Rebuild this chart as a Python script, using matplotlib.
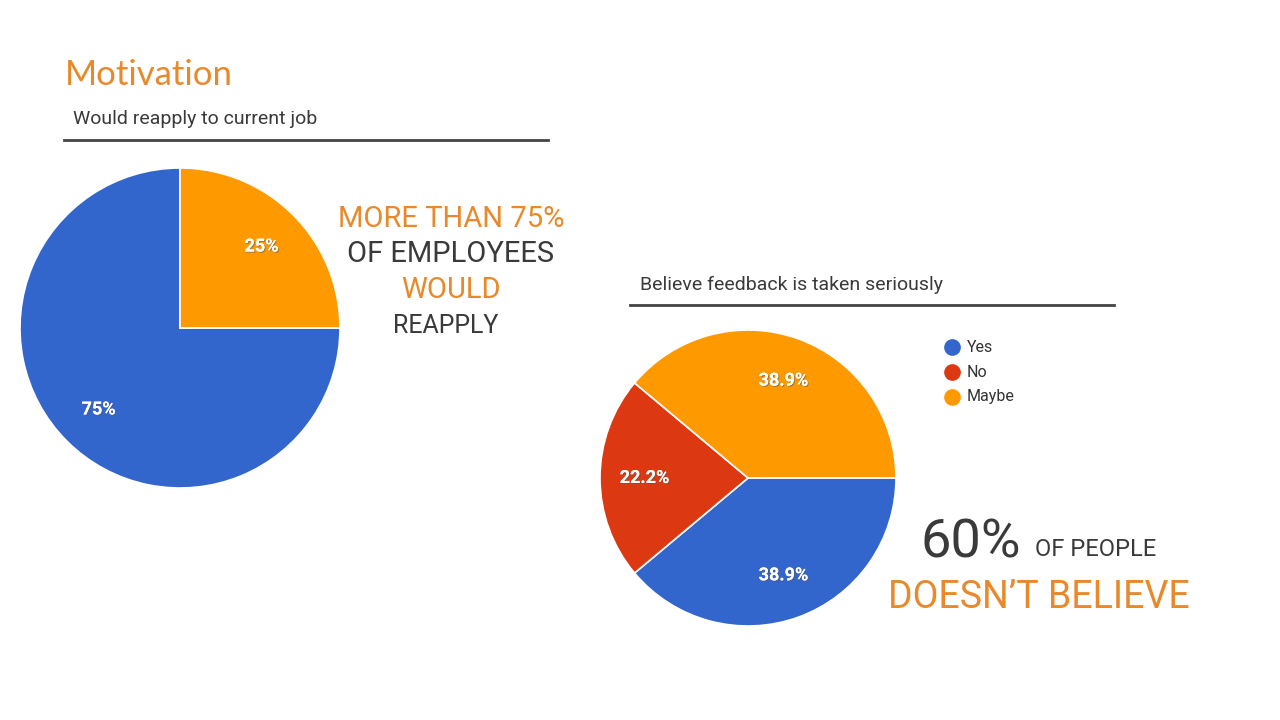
import matplotlib
matplotlib.use("Agg")
import matplotlib.pyplot as plt
import matplotlib.patheffects as pe
from matplotlib.lines import Line2D

# ---- data ----
reapply_labels = ["Yes", "No"]
reapply_values = [75, 25]
reapply_colors = ["#3366CC", "#FF9900"]

feedback_labels = ["Yes", "No", "Maybe"]
feedback_values = [38.9, 22.2, 38.9]
feedback_colors = ["#3366CC", "#DC3912", "#FF9900"]

ORANGE = "#E8892B"
DARK = "#3A3A3A"

W, H = 1280, 720
fig = plt.figure(figsize=(12.8, 7.2), dpi=100)
fig.patch.set_facecolor("white")


def fx(x):
    return x / W


def fy(y):
    return 1 - y / H


def pie_axes(cx, cy, r):
    ax = fig.add_axes([fx(cx - r), fy(cy + r), 2 * r / W, 2 * r / H])
    return ax


def finish(ax):
    ax.set_xlim(-1, 1)
    ax.set_ylim(-1, 1)
    ax.set_aspect("equal")
    ax.axis("off")


shadow = [pe.withSimplePatchShadow(offset=(0.8, -0.8), shadow_rgbFace="#555555", alpha=0.5), pe.Normal()]
pct_props = dict(color="white", fontsize=13, fontweight="bold", family="Roboto")

# left pie
ax1 = pie_axes(180, 328, 160)
w1, t1, a1 = ax1.pie(reapply_values, colors=reapply_colors, startangle=0, counterclock=False,
                     radius=1, autopct=lambda p: f"{p:.0f}%", pctdistance=0.72,
                     wedgeprops=dict(edgecolor="white", linewidth=1.2),
                     textprops=pct_props)
finish(ax1)
for t in a1:
    t.set_path_effects(shadow)

# right pie
ax2 = pie_axes(748, 478, 148)
w2, t2, a2 = ax2.pie(feedback_values, colors=feedback_colors, startangle=0, counterclock=False,
                     radius=1, autopct=lambda p: f"{p:.1f}%", pctdistance=0.70,
                     wedgeprops=dict(edgecolor="white", linewidth=1.2),
                     textprops=pct_props)
finish(ax2)
for t in a2:
    t.set_path_effects(shadow)

# legend for right pie
for i, (lab, col) in enumerate(zip(feedback_labels, feedback_colors)):
    y = 347 + i * 25
    fig.add_artist(Line2D([fx(952)], [fy(y)], marker="o", markersize=11, color=col,
                          markeredgecolor=col, linestyle="none"))
    fig.text(fx(967), fy(y), lab, fontsize=11.5, color="#333333", family="Roboto",
             ha="left", va="center")

# titles
fig.text(fx(65), fy(85), "Motivation", fontsize=25, color=ORANGE, family="Lato",
         ha="left", va="baseline")
fig.text(fx(73), fy(124), "Would reapply to current job", fontsize=14, color=DARK,
         family="Roboto", ha="left", va="baseline")
fig.add_artist(Line2D([fx(64), fx(548)], [fy(140), fy(140)], color="#444444", linewidth=2))

fig.text(fx(640), fy(290), "Believe feedback is taken seriously", fontsize=14, color=DARK,
         family="Roboto", ha="left", va="baseline")
fig.add_artist(Line2D([fx(630), fx(1114)], [fy(305), fy(305)], color="#444444", linewidth=2))

# left callout
fig.text(fx(451), fy(227), "MORE THAN 75%", fontsize=21, color=ORANGE, family="Roboto",
         ha="center", va="baseline")
fig.text(fx(451), fy(262), "OF EMPLOYEES", fontsize=21, color=DARK, family="Roboto",
         ha="center", va="baseline")
fig.text(fx(451), fy(298), "WOULD", fontsize=21, color=ORANGE, family="Roboto",
         ha="center", va="baseline")
fig.text(fx(446), fy(333), "REAPPLY", fontsize=18, color=DARK, family="Roboto",
         ha="center", va="baseline")

# right callout
fig.text(fx(921), fy(558), "60%", fontsize=39, color=DARK, family="Roboto",
         ha="left", va="baseline")
fig.text(fx(1035), fy(556), "OF PEOPLE", fontsize=17, color=DARK, family="Roboto",
         ha="left", va="baseline")
fig.text(fx(888), fy(608), "DOESN\u2019T BELIEVE", fontsize=27, color=ORANGE, family="Roboto",
         ha="left", va="baseline")

fig.savefig("out.png", dpi=100, facecolor="white")
